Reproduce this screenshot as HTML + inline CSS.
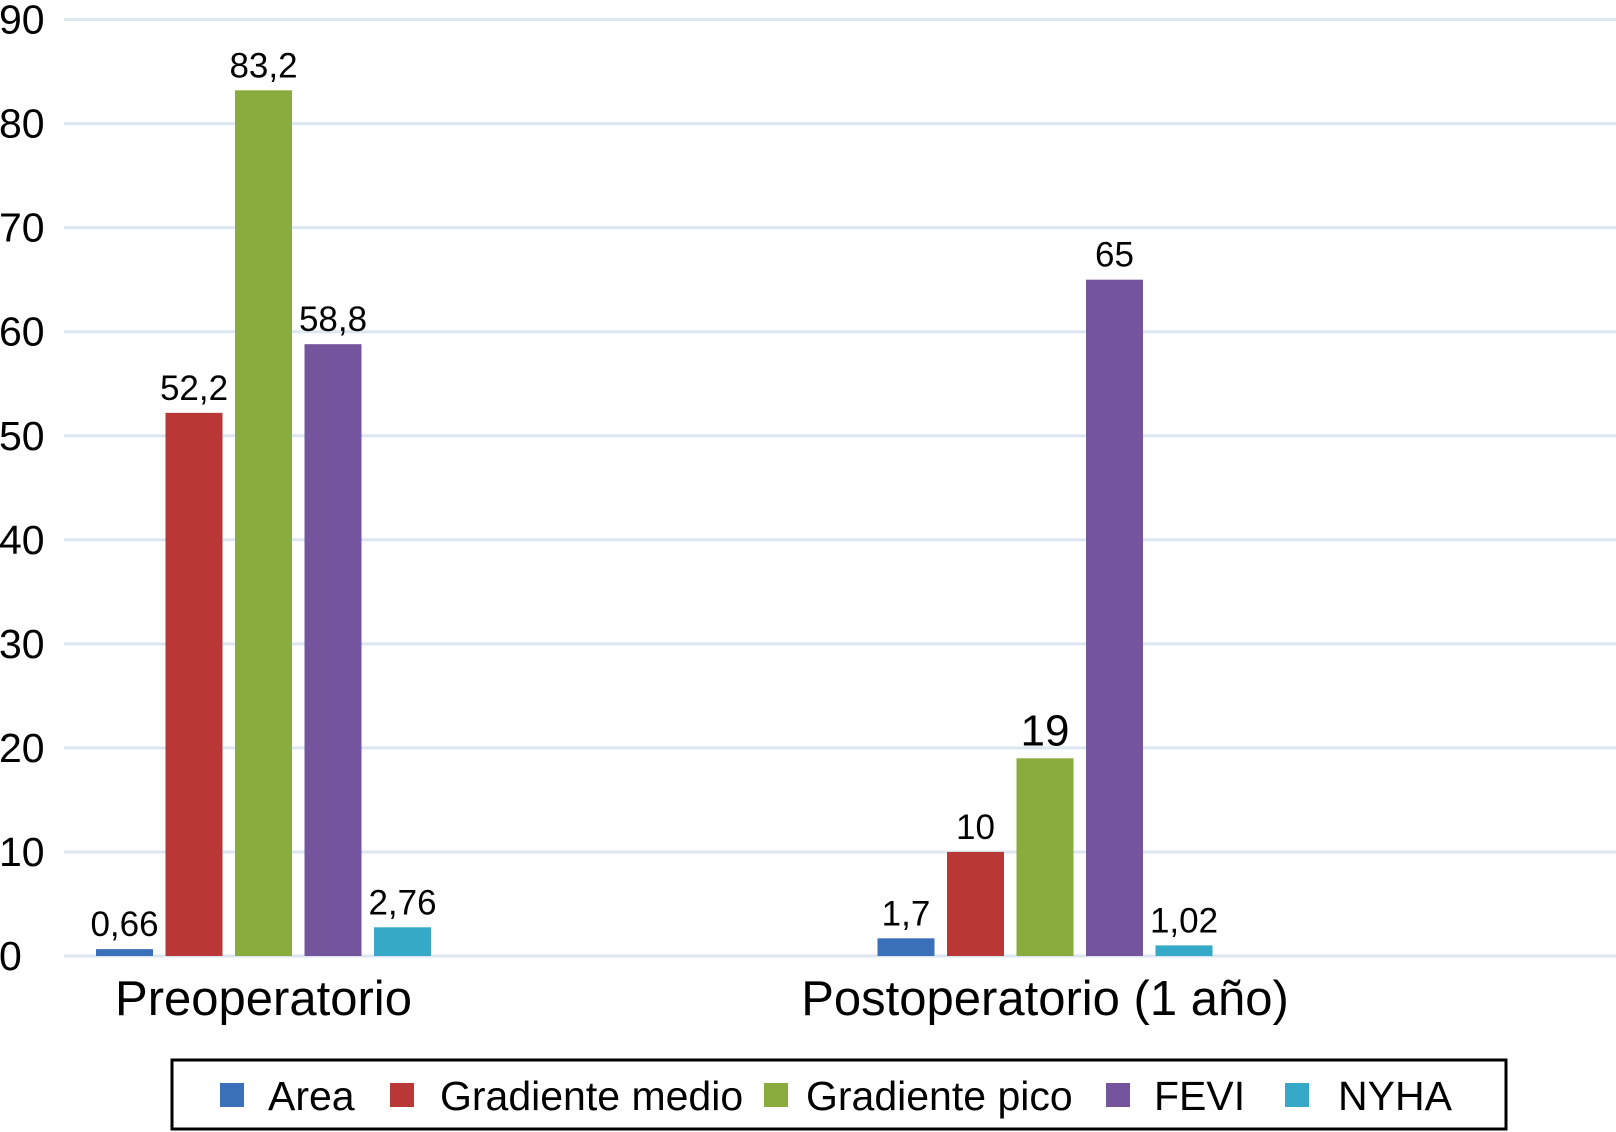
<!DOCTYPE html>
<html><head><meta charset="utf-8"><style>
body{margin:0;background:#fff;}
svg{display:block;font-family:"Liberation Sans Narrow","Liberation Sans",sans-serif;}
</style></head><body>
<svg id="chart" width="1616" height="1132" viewBox="0 0 1616 1132">
<g id="grid"></g>
<g id="yaxis"></g>
<g id="bars"></g>
<g id="xaxis"></g>
<g>
<rect x="172" y="1060" width="1334" height="69" fill="#fff" stroke="#000" stroke-width="3"/>
<g id="legend"></g>
</g>
</svg>
<script>
const categories=["Preoperatorio","Postoperatorio (1 año)"];
const seriesNames=["Area","Gradiente medio","Gradiente pico","FEVI","NYHA"];
const area=[0.66,1.7];
const gradMedio=[52.2,10];
const gradPico=[83.2,19];
const fevi=[58.8,65];
const nyha=[2.76,1.02];
const valueLabels=[["0,66","1,7"],["52,2","10"],["83,2","19"],["58,8","65"],["2,76","1,02"]];
const yTicks=[0,10,20,30,40,50,60,70,80,90];
const series=[area,gradMedio,gradPico,fevi,nyha];
const colors=["#3a6fba","#b93735","#8aac3e","#74549c","#37a9c8"];
const NS="http://www.w3.org/2000/svg";
const y0=956,pxPer=104.05/10;
function y(v){return y0-v*pxPer;}
function xc(i){return 263.5+i*781.5;}
const barStep=69.5,barW=57;
function mk(tag,attrs,parent){const e=document.createElementNS(NS,tag);for(const k in attrs)e.setAttribute(k,attrs[k]);parent.appendChild(e);return e;}
const grid=document.getElementById('grid'),ya=document.getElementById('yaxis'),bars=document.getElementById('bars'),xa=document.getElementById('xaxis'),lg=document.getElementById('legend');
yTicks.forEach(t=>{
 const l=mk('line',{x1:64,x2:1616,y1:y(t),y2:y(t),stroke:'#dce6f0','stroke-width':3},grid);
 
 
 const tx=mk('text',{x:-1,y:y(t)+14,'font-size':41,fill:'#000'},ya);
 tx.textContent=t;
 
 
});
categories.forEach((c,i)=>{
 series.forEach((s,j)=>{
  const cx=xc(i)+(j-2)*barStep;
  const r=mk('rect',{x:cx-barW/2,y:y(s[i]),width:barW,height:y0-y(s[i]),fill:colors[j]},bars);
  
  
  const fs=(j==2&&i==1)?44:35;
  const t=mk('text',{x:cx,y:y(s[i])-13,'font-size':fs,'text-anchor':'middle',fill:'#000'},bars);
  t.textContent=valueLabels[j][i];
  
  
 });
 const ct=mk('text',{x:xc(i),y:1015,'font-size':49,'text-anchor':'middle',fill:'#000'},xa);
 ct.textContent=c;
 
 
});
const sqX=[220,390,764,1106,1285],txX=[268,440,806,1154,1338];
seriesNames.forEach((n,j)=>{
 const sq=mk('rect',{x:sqX[j],y:1083,width:24,height:24,fill:colors[j]},lg);
 
 
 const t=mk('text',{x:txX[j],y:1110,'font-size':41,fill:'#000'},lg);
 t.textContent=n;
 
 
});
</script>
</body></html>
